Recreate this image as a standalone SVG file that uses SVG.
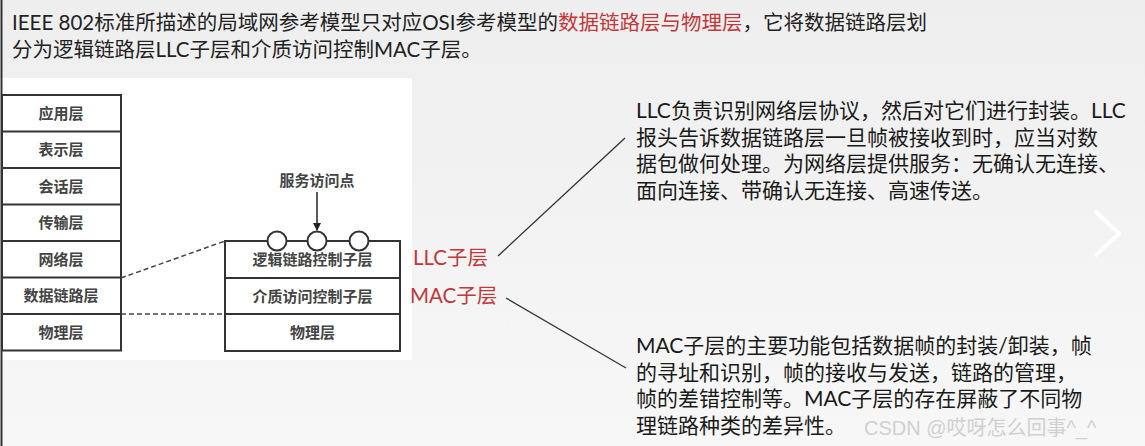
<svg xmlns="http://www.w3.org/2000/svg" width="1145" height="446" viewBox="0 0 1145 446">
<defs>
<linearGradient id="bg" x1="0" y1="0" x2="0" y2="1">
<stop offset="0" stop-color="#eeeeee"/>
<stop offset="1" stop-color="#f7f7f7"/>
</linearGradient>
<marker id="ah" markerWidth="8" markerHeight="8" refX="7" refY="4" orient="auto" markerUnits="userSpaceOnUse">
<path d="M0,0 L8,4 L0,8 z" fill="#222"/>
</marker>
<style>
.hd{font-family:Lato,"Noto Sans CJK SC",sans-serif;font-size:20.5px;fill:#222}
.red{fill:#c0393b}
.par{font-family:Lato,"Noto Sans CJK SC",sans-serif;font-size:21px;fill:#1a1a1a}
.box{fill:#fff;stroke:#333;stroke-width:2}
.lbl{font-family:"Liberation Serif","Noto Sans CJK SC",serif;font-size:15px;fill:#444;text-anchor:middle;font-weight:bold}
.sub{font-family:Lato,"Noto Sans CJK SC",sans-serif;font-size:20.5px;fill:#c0393b}
.dash{stroke:#444;stroke-width:1.5;stroke-dasharray:5 3;fill:none}
.conn{stroke:#333;stroke-width:1.3;fill:none}
.wm{font-family:"Liberation Sans","Noto Sans CJK SC",sans-serif;font-size:20px;fill:#d0d0d0}
</style>
</defs>
<rect width="1145" height="446" fill="url(#bg)"/>
<rect x="0" y="78" width="412" height="282" fill="#ffffff"/>
<line x1="1.5" y1="0" x2="1.5" y2="446" stroke="#333" stroke-width="2"/>

<g id="header">
<text class="hd" x="12" y="30">IEEE 802标准所描述的局域网参考模型只对应OSI参考模型的<tspan class="red">数据链路层与物理层</tspan>，它将数据链路层划</text>
<text class="hd" x="12" y="57">分为逻辑链路层LLC子层和介质访问控制MAC子层。</text>
</g>

<g id="osi">
<rect class="box" x="2" y="95" width="119" height="255.5"/>
<line x1="2" y1="131.5" x2="121" y2="131.5" stroke="#333" stroke-width="2"/>
<line x1="2" y1="168" x2="121" y2="168" stroke="#333" stroke-width="2"/>
<line x1="2" y1="204.5" x2="121" y2="204.5" stroke="#333" stroke-width="2"/>
<line x1="2" y1="241" x2="121" y2="241" stroke="#333" stroke-width="2"/>
<line x1="2" y1="277.5" x2="121" y2="277.5" stroke="#333" stroke-width="2"/>
<line x1="2" y1="314" x2="121" y2="314" stroke="#333" stroke-width="2"/>
<text class="lbl" x="61" y="118.5">应用层</text>
<text class="lbl" x="61" y="155">表示层</text>
<text class="lbl" x="61" y="191.5">会话层</text>
<text class="lbl" x="61" y="228">传输层</text>
<text class="lbl" x="61" y="264.5">网络层</text>
<text class="lbl" x="61" y="301">数据链路层</text>
<text class="lbl" x="61" y="337.5">物理层</text>
</g>

<g id="ieee802">
<rect class="box" x="225" y="241" width="175" height="110"/>
<line x1="225" y1="278" x2="400" y2="278" stroke="#333" stroke-width="2"/>
<line x1="225" y1="314" x2="400" y2="314" stroke="#333" stroke-width="2"/>
<text class="lbl" x="312.5" y="265">逻辑链路控制子层</text>
<text class="lbl" x="312.5" y="301.5">介质访问控制子层</text>
<text class="lbl" x="312.5" y="338">物理层</text>
<circle cx="277" cy="241" r="9.5" fill="#fff" stroke="#333" stroke-width="2"/>
<circle cx="317" cy="241" r="9.5" fill="#fff" stroke="#333" stroke-width="2"/>
<circle cx="359" cy="241" r="9.5" fill="#fff" stroke="#333" stroke-width="2"/>
</g>

<g id="sap">
<text class="lbl" x="317" y="186">服务访问点</text>
</g>

<g id="llc-label"><text class="sub" x="413" y="265">LLC子层</text></g>
<g id="mac-label"><text class="sub" x="410" y="303">MAC子层</text></g>

<g id="llc-desc">
<text class="par" x="636" y="118">LLC负责识别网络层协议，然后对它们进行封装。LLC</text>
<text class="par" x="636" y="144.5">报头告诉数据链路层一旦帧被接收到时，应当对数</text>
<text class="par" x="636" y="171">据包做何处理。为网络层提供服务：无确认无连接、</text>
<text class="par" x="636" y="197.5">面向连接、带确认无连接、高速传送。</text>
</g>

<g id="mac-desc">
<text class="par" x="636" y="353">MAC子层的主要功能包括数据帧的封装/卸装，帧</text>
<text class="par" x="636" y="379.5">的寻址和识别，帧的接收与发送，链路的管理，</text>
<text class="par" x="636" y="406">帧的差错控制等。MAC子层的存在屏蔽了不同物</text>
<text class="par" x="636" y="432.5">理链路种类的差异性。</text>
</g>

<g id="connectors">
<line class="dash" x1="121" y1="278" x2="225" y2="241"/>
<line class="dash" x1="121" y1="314" x2="225" y2="314"/>
<line x1="317" y1="192" x2="317" y2="230" stroke="#222" stroke-width="1.5" marker-end="url(#ah)"/>
<line class="conn" x1="498" y1="256" x2="625" y2="138"/>
<line class="conn" x1="506" y1="298" x2="626" y2="368"/>
</g>

<text class="wm" x="864" y="435">CSDN @哎呀怎么回事^_^</text>
<polyline points="1096,212 1119,233.5 1096,255" fill="none" stroke="#ffffff" stroke-width="4" stroke-linecap="round" stroke-linejoin="round"/>
</svg>
